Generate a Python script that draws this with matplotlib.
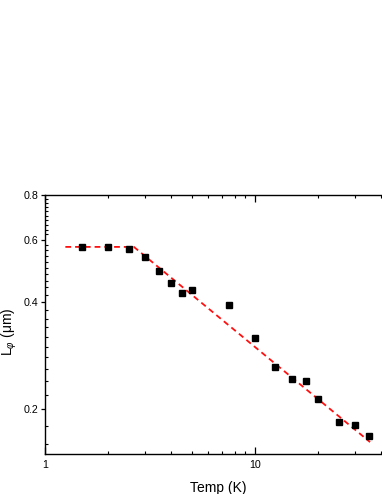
import numpy as np
import matplotlib
matplotlib.use('Agg')
import matplotlib.pyplot as plt
from matplotlib.ticker import FixedLocator, NullFormatter, FixedFormatter, LogLocator

plt.rcParams['font.family'] = ['Liberation Sans', 'DejaVu Sans']
plt.rcParams['mathtext.fontset'] = 'custom'
plt.rcParams['mathtext.rm'] = 'Liberation Sans'
plt.rcParams['mathtext.it'] = 'Liberation Sans:italic'

# measured points
temp = [1.5, 2.0, 2.5, 3.0, 3.5, 4.0, 4.5, 5.0, 7.5, 10, 12.5, 15, 17.5, 20, 25, 30, 35]
lphi = [0.572, 0.571, 0.564, 0.535, 0.489, 0.454, 0.424, 0.433, 0.393, 0.317,
        0.264, 0.244, 0.241, 0.214, 0.184, 0.181, 0.169]

# fit line (corner points)
fit_temp = [1.25, 2.65, 35.3]
fit_lphi = [0.572, 0.572, 0.162]

y_major = [0.2, 0.4, 0.6, 0.8]
y_labels = ['0.2', '0.4', '0.6', '0.8']
x_major = [1, 10]
x_labels = ['1', '10']

fig = plt.figure(figsize=(3.82, 4.94), dpi=100)
ax = fig.add_axes([45 / 382, 40 / 494, 347.2 / 382, 259 / 494])

ax.plot(fit_temp, fit_lphi, color='#ff1010', lw=1.3, ls=(0, (3.2, 2.2)), zorder=2)
ax.plot(temp, lphi, 's', color='black', ms=4.3, zorder=3)

ax.set_xscale('log')
ax.set_yscale('log')
ax.set_xlim(1, 45)
ax.set_ylim(0.15, 0.8)

ax.xaxis.set_major_locator(FixedLocator(x_major))
ax.xaxis.set_major_formatter(FixedFormatter(x_labels))
ax.xaxis.set_minor_locator(LogLocator(base=10, subs=np.arange(2, 10)))
ax.xaxis.set_minor_formatter(NullFormatter())

ax.yaxis.set_major_locator(FixedLocator(y_major))
ax.yaxis.set_major_formatter(FixedFormatter(y_labels))
ax.yaxis.set_minor_locator(FixedLocator(np.round(np.arange(0.16, 0.8, 0.02), 2)))
ax.yaxis.set_minor_formatter(NullFormatter())

ax.tick_params(axis='x', which='major', direction='in', top=True, length=5, width=0.9,
               labelsize=7.7, pad=4)
ax.tick_params(axis='x', which='minor', direction='in', top=True, length=2.5, width=0.8)
ax.tick_params(axis='y', which='major', direction='out', right=False, length=3, width=0.9,
               labelsize=7.7, pad=2)
ax.tick_params(axis='y', which='minor', direction='in', right=False, length=2.5, width=0.8)

for s in ['left', 'bottom', 'top']:
    ax.spines[s].set_linewidth(1.0)
ax.spines['right'].set_visible(False)

ax.set_xlabel('Temp (K)', fontsize=10, labelpad=8)
ax.set_ylabel(r'L$_\varphi$ (μm)', fontsize=10)
ax.yaxis.set_label_coords(-0.076, 0.47)

fig.savefig('out.png', dpi=100)
